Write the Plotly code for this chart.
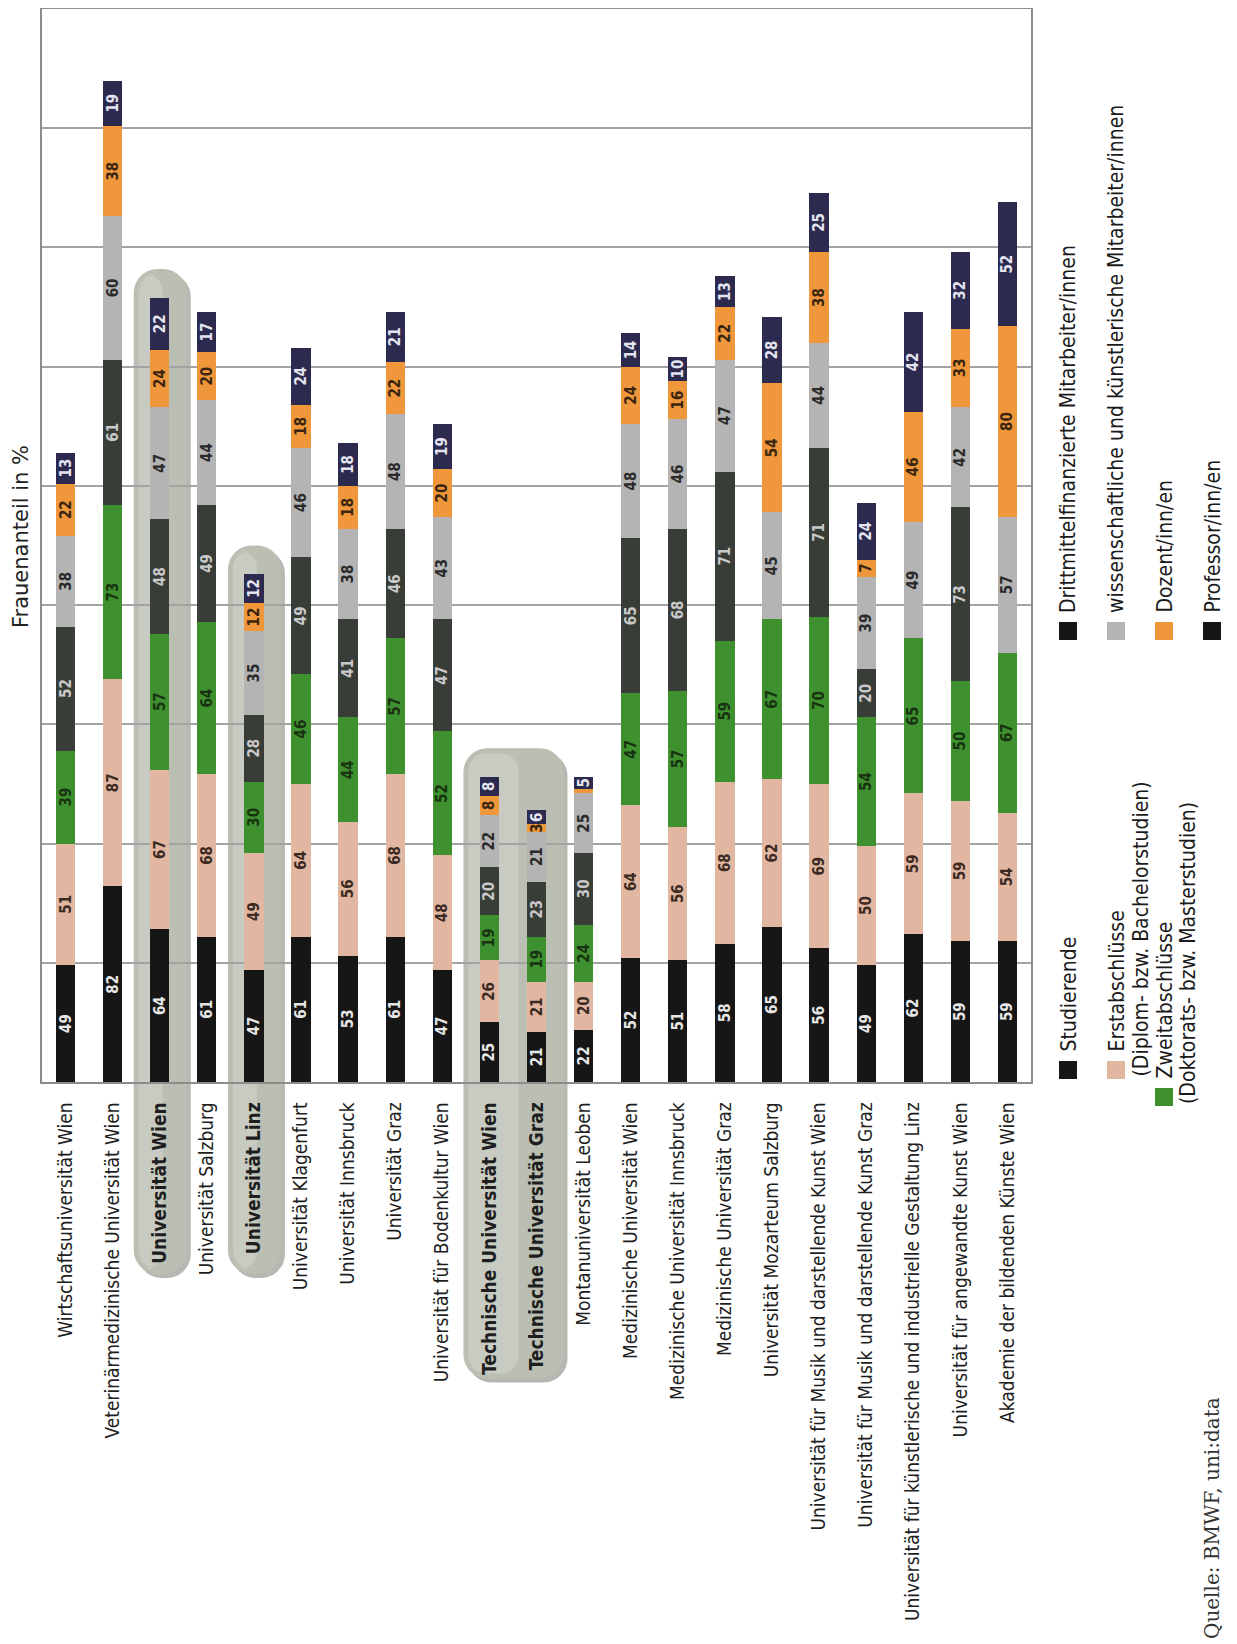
import math
import plotly.graph_objects as go

categories = [
    "Wirtschaftsuniversität Wien",
    "Veterinärmedizinische Universität Wien",
    "Universität Wien",
    "Universität Salzburg",
    "Universität Linz",
    "Universität Klagenfurt",
    "Universität Innsbruck",
    "Universität Graz",
    "Universität für Bodenkultur Wien",
    "Technische Universität Wien",
    "Technische Universität Graz",
    "Montanuniversität Leoben",
    "Medizinische Universität Wien",
    "Medizinische Universität Innsbruck",
    "Medizinische Universität Graz",
    "Universität Mozarteum Salzburg",
    "Universität für Musik und darstellende Kunst Wien",
    "Universität für Musik und darstellende Kunst Graz",
    "Universität für künstlerische und industrielle Gestaltung Linz",
    "Universität für angewandte Kunst Wien",
    "Akademie der bildenden Künste Wien",
]

studierende = [49, 82, 64, 61, 47, 61, 53, 61, 47, 25, 21, 22, 52, 51, 58, 65, 56, 49, 62, 59, 59]
erstabschluesse = [51, 87, 67, 68, 49, 64, 56, 68, 48, 26, 21, 20, 64, 56, 68, 62, 69, 50, 59, 59, 54]
zweitabschluesse = [39, 73, 57, 64, 30, 46, 44, 57, 52, 19, 19, 24, 47, 57, 59, 67, 70, 54, 65, 50, 67]
drittmittel = [52, 61, 48, 49, 28, 49, 41, 46, 47, 20, 23, 30, 65, 68, 71, None, 71, 20, None, 73, None]
wissenschaftlich = [38, 60, 47, 44, 35, 46, 38, 48, 43, 22, 21, 25, 48, 46, 47, 45, 44, 39, 49, 42, 57]
dozent = [22, 38, 24, 20, 12, 18, 18, 22, 20, 8, 3, 2, 24, 16, 22, 54, 38, 7, 46, 33, 80]
professor = [13, 19, 22, 17, 12, 24, 18, 21, 19, 8, 6, 5, 14, 10, 13, 28, 25, 24, 42, 32, 52]

highlight_groups = [
    ["Universität Wien"],
    ["Universität Linz"],
    ["Technische Universität Wien", "Technische Universität Graz"],
]

y_axis_title = "Frauenanteil in %"
source_text = "Quelle: BMWF, uni:data"

series = [
    ("Studierende", studierende, "#161616", "#e6e6e6"),
    ("Erstabschlüsse|(Diplom- bzw. Bachelorstudien)", erstabschluesse, "#e2b7a2", "#3b2a22"),
    ("Zweitabschlüsse|(Doktorats- bzw. Masterstudien)", zweitabschluesse, "#3f902f", "#18330f"),
    ("Drittmittelfinanzierte Mitarbeiter/innen", drittmittel, "#383d38", "#c9c9c9"),
    ("wissenschaftliche und künstlerische Mitarbeiter/innen", wissenschaftlich, "#b4b4b4", "#2a2a2a"),
    ("Dozent/inn/en", dozent, "#f0973b", "#3a2610"),
    ("Professor/inn/en", professor, "#2c2a4e", "#e4e4f0"),
]
legend_swatch = ["#161616", "#e2b7a2", "#3f902f", "#161616", "#b4b4b4", "#f0973b", "#161616"]

FONT = "DejaVu Sans Condensed, Liberation Sans Narrow, Arial Narrow, sans-serif"

# page geometry (screen pixels); the html body adds an 8px margin
OFF = 8
W_IMG, H_IMG = 1237, 1644
L, R, T, B = 42, 1031, 9, 1082
PW, PH = R - L, B - T
Y_MAX = 450
FIG_W, FIG_H = W_IMG - OFF, H_IMG - OFF


def px_x(px):
    return (px - L) / PW


def px_y(py):
    return (B - py) / PH


highlighted = [c for g in highlight_groups for c in g]

fig = go.Figure()
for name, vals, color, tcolor in series:
    fig.add_trace(go.Bar(
        x=categories,
        y=vals,
        name=name.replace("|", " "),
        marker=dict(color=color, line=dict(width=0)),
        text=["" if (v is None or v < 3) else str(v) for v in vals],
        textposition="inside",
        insidetextanchor="middle",
        textangle=-90,
        constraintext="none",
        textfont=dict(family=FONT, size=15, color=tcolor, weight=700),
        hoverinfo="x+y+name",
        showlegend=False,
    ))

n = len(categories)
unit_px = PW / n
shapes = []


def pill_path(x0, x1, y0, y1, r):
    pts = []
    steps = 10
    for k in range(steps + 1):
        a = math.pi / 2 * k / steps
        pts.append((x1 - r + r * math.sin(a), y0 + r - r * math.cos(a)))
    for k in range(steps + 1):
        a = math.pi / 2 * k / steps
        pts.append((x1 - r + r * math.cos(a), y1 - r + r * math.sin(a)))
    for k in range(steps + 1):
        a = math.pi / 2 * k / steps
        pts.append((x0 + r - r * math.sin(a), y1 - r + r * math.cos(a)))
    for k in range(steps + 1):
        a = math.pi / 2 * k / steps
        pts.append((x0 + r - r * math.cos(a), y0 + r - r * math.sin(a)))
    return "M " + " L ".join(f"{px_x(px):.5f},{px_y(py):.5f}" for px, py in pts) + " Z"


totals = [sum((vals[i] or 0) for _, vals, _, _ in series) for i in range(n)]

LABEL_TOP = B + 18
CHAR_W = 9.5
for group in highlight_groups:
    idx = [categories.index(c) for c in group]
    top_val = max(totals[i] for i in idx)
    longest = max(len(c) for c in group)
    x0 = L + (min(idx) + 0.5) * unit_px - 26
    x1 = L + (max(idx) + 0.5) * unit_px + 27
    y0 = B - (top_val + 12) * PH / Y_MAX
    y1 = LABEL_TOP + longest * CHAR_W + 22
    shapes.append(dict(type="path", xref="paper", yref="paper", layer="below",
                       path=pill_path(x0 + 4, x1 + 4, y0 + 4, y1 + 4, 24),
                       fillcolor="#9ea297", line=dict(width=0), opacity=0.75))
    shapes.append(dict(type="path", xref="paper", yref="paper", layer="below",
                       path=pill_path(x0, x1, y0, y1, 24),
                       fillcolor="#babeb3", line=dict(width=0)))
    shapes.append(dict(type="path", xref="paper", yref="paper", layer="below",
                       path=pill_path(x0 + 5, x0 + (x1 - x0) * 0.55, y0 + 5, y1 - 5, 18),
                       fillcolor="#c7cbc1", line=dict(width=0)))

annotations = []
annotations.append(dict(text=y_axis_title, xref="paper", yref="paper", x=px_x(21), y=px_y(537),
                        xanchor="center", yanchor="middle", textangle=-90,
                        showarrow=False, font=dict(family="DejaVu Sans, sans-serif", size=21, color="#222")))
annotations.append(dict(text=source_text, xref="paper", yref="paper", x=px_x(1212), y=px_y(1641),
                        xanchor="center", yanchor="bottom", textangle=-90, showarrow=False,
                        font=dict(family="DejaVu Serif, serif", size=20, color="#333")))

# legend, rotated like the rest of the chart
LEG_FONT = 21
SW = 18
legend_layout = [
    # (series index, column x centre, swatch top y)
    (3, 1068, 622),
    (4, 1116, 622),
    (5, 1164, 622),
    (6, 1212, 622),
    (0, 1068, 1061),
    (1, 1116, 1061),
    (2, 1164, 1088),
]
for si, cx, sy in legend_layout:
    lines = series[si][0].split("|")
    shapes.append(dict(type="rect", xref="paper", yref="paper", layer="above",
                       x0=px_x(cx - SW / 2), x1=px_x(cx + SW / 2), y0=px_y(sy), y1=px_y(sy + SW),
                       fillcolor=legend_swatch[si], line=dict(width=0)))
    for li, line in enumerate(lines):
        bottom = sy - 7 if li == 0 else sy + SW
        annotations.append(dict(text=line, xref="paper", yref="paper",
                                x=px_x(cx + li * 24), y=px_y(bottom),
                                xanchor="center", yanchor="bottom", textangle=-90,
                                showarrow=False,
                                font=dict(family=FONT, size=LEG_FONT, color="#1a1a1a")))

ticktext = [f"<b>{c}</b>" if c in highlighted else c for c in categories]

fig.update_layout(
    template="none",
    width=FIG_W, height=FIG_H,
    margin=dict(l=L - OFF, r=FIG_W - (R - OFF), t=T - OFF, b=FIG_H - (B - OFF), pad=0),
    barmode="stack",
    bargap=0.59,
    plot_bgcolor="white",
    paper_bgcolor="white",
    shapes=shapes,
    annotations=annotations,
    font=dict(family=FONT, color="#1a1a1a"),
    xaxis=dict(
        type="category",
        tickmode="array", tickvals=categories, ticktext=ticktext,
        tickangle=-90,
        tickfont=dict(family=FONT, size=19, color="#1e1e1e"),
        ticklabelstandoff=11,
        automargin=False,
        showline=True, mirror=True, linecolor="#8c8c8c", linewidth=1.5,
        showgrid=False, ticks="",
        range=[-0.5, n - 0.5],
    ),
    yaxis=dict(
        range=[0, Y_MAX],
        tickmode="linear", tick0=0, dtick=50,
        showgrid=True, gridcolor="#a3a3a3", gridwidth=1.5,
        showticklabels=False, ticks="",
        automargin=False,
        showline=True, mirror=True, linecolor="#8c8c8c", linewidth=1.5,
        zeroline=False,
    ),
)

fig.write_html("out.html")
